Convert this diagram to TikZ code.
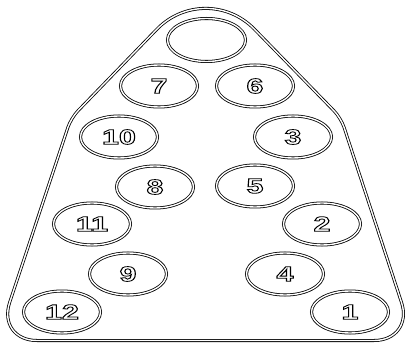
\documentclass[tikz,border=0pt]{standalone}
\usepackage{fontspec}
\setmainfont{Liberation Sans}
\usepackage{tikz}
\usetikzlibrary{shapes.geometric}
\newcommand{\holenum}[1]{\scalebox{1.45}[1]{\special{pdf:literal direct 1 Tr 0.8 w}#1\special{pdf:literal direct 0 Tr}}}

\begin{document}
\begin{tikzpicture}[x=1pt,y=-1pt,
 dbl/.style={draw,double,line width=0.8pt,double distance=1.4pt},
 hole/.style={dbl,ellipse,minimum width=77pt,minimum height=42pt,inner sep=0pt,font=\fontsize{21}{20}\selectfont\bfseries}]
 \useasboundingbox (0,0) rectangle (406,344);
 % rack outline
 \draw[dbl] (205,340.5) [rounded corners=40pt] -- (-3,340.5) [rounded corners=10pt] -- (71,118)
 [rounded corners=70pt] -- (205.5,-21) [rounded corners=10pt] -- (341,118)
 [rounded corners=40pt] -- (414,340.5) -- cycle;
 % holes
 \node[hole,minimum width=78pt,minimum height=43pt] (top) at (206.5,40) {};
 \node[hole] (h7) at (159,86) {\holenum{7}};
 \node[hole] (h6) at (255,86) {\holenum{6}};
 \node[hole] (h10) at (119,137) {\holenum{10}};
 \node[hole] (h3) at (293,137) {\holenum{3}};
 \node[hole] (h8) at (155,187) {\holenum{8}};
 \node[hole] (h5) at (255,186) {\holenum{5}};
 \node[hole] (h11) at (92,224) {\holenum{11}};
 \node[hole] (h2) at (322,224) {\holenum{2}};
 \node[hole] (h9) at (128,274) {\holenum{9}};
 \node[hole] (h4) at (285,274) {\holenum{4}};
 \node[hole] (h12) at (62,312) {\holenum{12}};
 \node[hole] (h1) at (350,312) {\holenum{1}};
\end{tikzpicture}
\end{document}
